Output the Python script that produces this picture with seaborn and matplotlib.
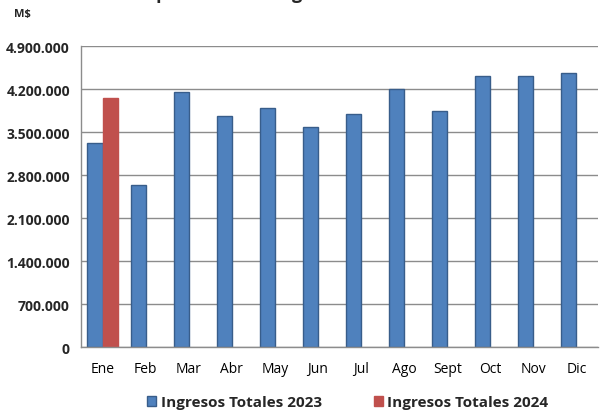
import matplotlib
matplotlib.use("Agg")
import matplotlib.pyplot as plt
import numpy as np
import pandas as pd
import seaborn as sns
from matplotlib.patches import Patch
from matplotlib.ticker import FuncFormatter, MultipleLocator, FixedLocator

# Monthly income values (M$)
months = ["Ene", "Feb", "Mar", "Abr", "May", "Jun", "Jul", "Ago", "Sept", "Oct", "Nov", "Dic"]
ingresos_2023 = [3330000, 2640000, 4150000, 3770000, 3900000, 3590000,
                 3790000, 4210000, 3840000, 4410000, 4410000, 4470000]
ingresos_2024 = [4060000] + [np.nan] * 11
series = ["Ingresos Totales 2023", "Ingresos Totales 2024"]

BLUE, BLUE_EDGE = "#4F81BD", "#385D8A"
RED, RED_EDGE = "#C0504D", "#C0504D"

df = pd.concat([
    pd.DataFrame({"mes": months, "valor": ingresos_2023, "serie": series[0]}),
    pd.DataFrame({"mes": months, "valor": ingresos_2024, "serie": series[1]}),
], ignore_index=True)

sns.set_theme(style="white")
plt.rcParams["font.family"] = ["Open Sans", "DejaVu Sans"]

fig = plt.figure(figsize=(6.09, 4.14), dpi=100)
ax = fig.add_axes([0.133, 0.159, 0.849, 0.727])

sns.barplot(data=df, x="mes", y="valor", hue="serie", order=months,
            palette=[BLUE, RED], width=0.7, dodge=True, ax=ax, legend=False,
            saturation=1)
for bar_container, edge in zip(ax.containers, [BLUE_EDGE, RED_EDGE]):
    for p in bar_container:
        p.set_edgecolor(edge)
        p.set_linewidth(1.0)

ax.set_ylim(0, 4900000)
ax.set_xlim(-0.5, 11.5)
ax.yaxis.set_major_locator(MultipleLocator(700000))
ax.yaxis.set_major_formatter(FuncFormatter(lambda v, _: f"{int(v):,}".replace(",", ".")))
ax.grid(axis="y", color="#8c8c8c", linewidth=1.0)
ax.set_axisbelow(True)

for s in ["top", "right"]:
    ax.spines[s].set_visible(False)
for s in ["left", "bottom"]:
    ax.spines[s].set_color("#8c8c8c")
    ax.spines[s].set_linewidth(1.0)

ax.xaxis.set_minor_locator(FixedLocator(np.arange(-0.5, 12.0, 1.0)))
ax.tick_params(axis="x", which="major", length=0, labelsize=10, pad=10, colors="black")
ax.tick_params(axis="x", which="minor", length=4, width=1, color="#8c8c8c", direction="out")
ax.tick_params(axis="y", length=4, width=1, color="#8c8c8c", direction="out",
               labelsize=10, pad=4)
for lbl in ax.get_yticklabels():
    lbl.set_fontweight("bold")
ax.set_xlabel("")
ax.set_ylabel("")

fig.text(0.023, 0.964, "M$", fontsize=8, fontweight="bold", ha="left", va="center")
fig.text(0.19, 1.003, "Comportamiento Ingresos Totales", fontsize=13, fontweight="bold",
         ha="left", va="baseline")

handles = [Patch(facecolor=BLUE, edgecolor=BLUE_EDGE, label=series[0]),
           Patch(facecolor=RED, edgecolor=RED_EDGE, label=series[1])]
leg = fig.legend(handles=handles, loc="lower center", bbox_to_anchor=(0.571, -0.024),
                 ncol=2, frameon=False, handlelength=0.6, handleheight=0.6,
                 handletextpad=0.3, columnspacing=3.4, prop={"weight": "bold", "size": 11})

fig.savefig("out.png", dpi=100)
